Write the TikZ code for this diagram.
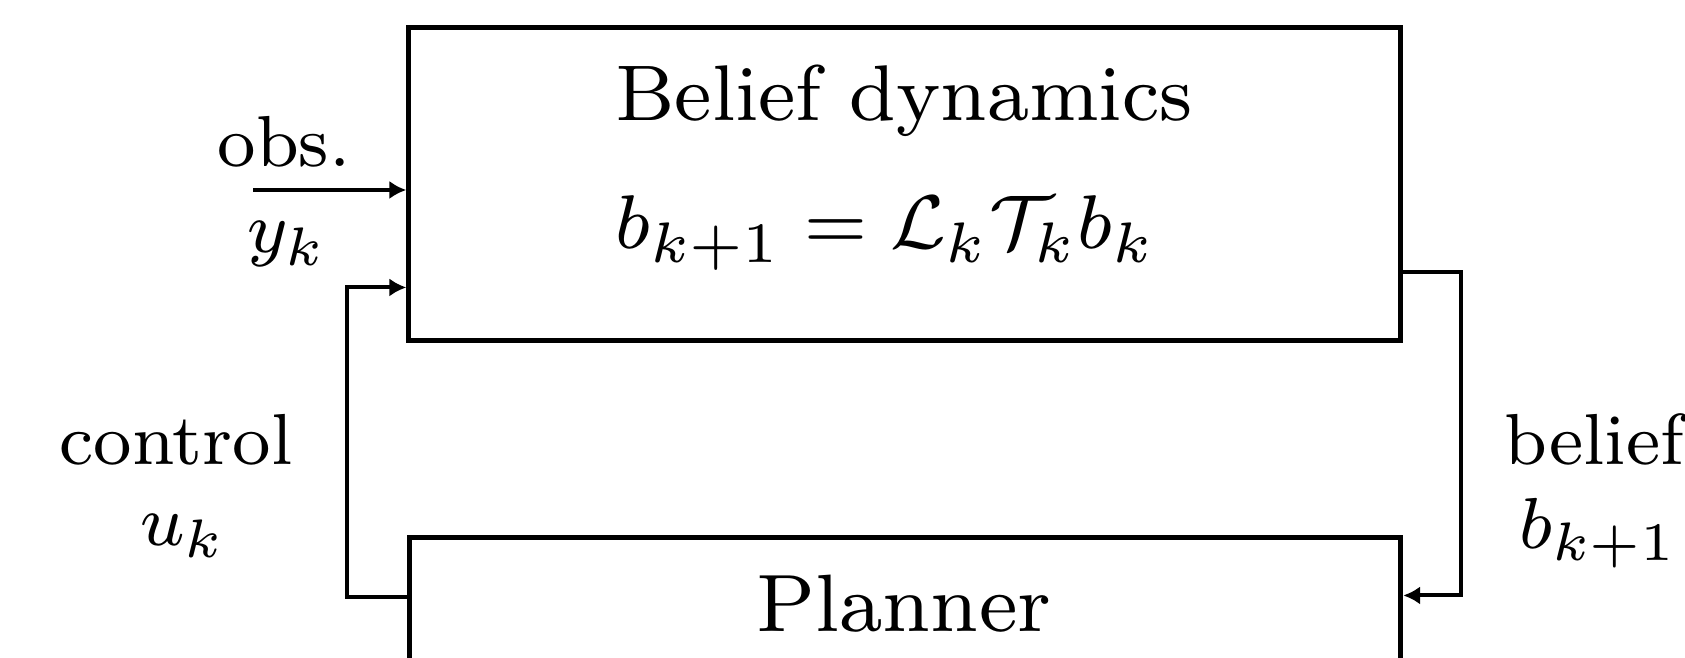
\documentclass[tikz,border=0pt]{standalone}
\usepackage{amsmath}
\usetikzlibrary{arrows.meta,positioning,calc}

\begin{document}
\begin{tikzpicture}[x=0.01cm,y=-0.01cm,>={Latex[length=4.8pt,width=5.2pt]},
  block/.style={draw,line width=1.4pt,minimum width=9.91cm,minimum height=3.12cm,inner sep=0pt},
  txt/.style={font=\fontsize{8}{9.6}\selectfont,inner sep=0pt,anchor=base},
  title/.style={txt,scale=2.85},
  lbl/.style={txt,scale=2.57},
  link/.style={line width=1.15pt}]
\clip (0,0) rectangle (1685,658);
% blocks
\node[block] (dyn) at (904.5,184) {};
\node[block] (plan) at (905,694) {};
\node[title,scale=0.985] (dyn_title) at (904,121) {Belief dynamics};
\node[title,scale=0.95] (dyn_eq) at (886,249) {$b_{k+1} = \mathcal{L}_k\mathcal{T}_k b_k$};
\node[title,scale=1.015] (plan_title) at (904,631) {Planner};
% signals
\coordinate (obs_in) at (253,190);
\draw[link,->] (obs_in) -- (obs_in -| dyn.west);
\node[lbl] (obs_lbl) at (284,167) {obs.};
\node[lbl] (obs_sym) at (287,253) {$y_k$};
\draw[link,->] ($(plan.north west)+(0,62)$) -- ++(-60,0) |- ($(dyn.north west)+(0,262)$);
\node[lbl] (ctrl_lbl) at (176,465) {control};
\node[lbl] (ctrl_sym) at (183,545) {$u_k$};
\draw[link,->] ($(dyn.north east)+(0,247)$) -- ++(58,0) |- ($(plan.north east)+(0,60)$);
\node[lbl] (bel_lbl) at (1594,465) {belief};
\node[lbl] (bel_sym) at (1599,548) {$b_{k+1}$};
\end{tikzpicture}
\end{document}
